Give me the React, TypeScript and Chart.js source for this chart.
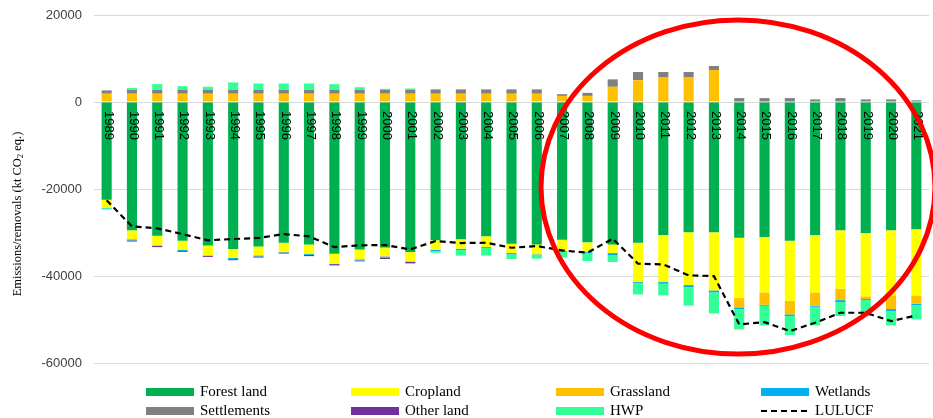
import React, { useEffect, useRef } from "react";
import { Chart, registerables } from "chart.js";

Chart.register(...registerables);

const years = [
  "1989", "1990", "1991", "1992", "1993", "1994", "1995", "1996", "1997", "1998", "1999",
  "2000", "2001", "2002", "2003", "2004", "2005", "2006", "2007", "2008", "2009", "2010",
  "2011", "2012", "2013", "2014", "2015", "2016", "2017", "2018", "2019", "2020", "2021",
];

const forestLand = [
  -22450, -29500, -30730, -31880, -32960, -33800, -33190, -32350, -32730, -34870, -33880,
  -33420, -34500, -31810, -31580, -30890, -32580, -32730, -31660, -32270, -32730, -32350,
  -30580, -29970, -29970, -31190, -31040, -31880, -30580, -29510, -30120, -29510, -29280,
];

const cropland = [
  -1840, -2070, -2230, -2150, -2300, -2070, -2070, -2150, -2150, -2300, -2300,
  -2070, -2150, -2150, -2150, -2450, -2150, -2300, -2600, -2230, -2000, -9050,
  -10810, -12110, -13340, -13880, -12730, -13800, -13190, -13420, -14570, -14950, -15180,
];

const grassland = [
  1900, 1900, 1900, 1900, 1900, 1900, 1900, 1900, 1900, 1900, 1900,
  1900, 1900, 1900, 1900, 1900, 1900, 1900, 1400, 1400, 3500, 5000,
  5750, 5750, 7350, -2150, -2840, -3140, -3070, -2610, -610, -3140, -1920,
];

const wetlands = [
  -150, -250, -100, -250, -100, -250, -250, -100, -250, -100, -250,
  -300, -100, -300, -300, -200, -300, -200, -200, -300, -530, -300,
  -380, -460, -460, -380, -230, -380, -230, -460, -230, -460, -300,
];

const settlements = [
  770, 900, 900, 900, 900, 900, 900, 900, 900, 900, 900,
  900, 900, 1000, 1000, 1000, 1000, 1000, 400, 700, 1700, 1900,
  1150, 1150, 920, 900, 900, 900, 600, 900, 600, 600, 400,
];

const otherLand = [
  0, -250, -300, -200, -250, -250, -250, -250, -300, -300, -200,
  -300, -350, 0, 0, 0, 0, 0, 0, 0, 0, 0,
  0, 0, 0, 0, 0, 0, 0, 0, 0, 0, 0,
];

const hwp = [
  -300, 450, 1300, 850, 700, 1700, 1450, 1450, 1450, 1300, 600,
  230, 300, -400, -1300, -1760, -1070, -770, -1300, -1760, -1530, -2530,
  -2680, -4290, -4830, -4680, -4520, -4370, -4290, -3220, -3680, -3300, -3300,
];

const lulucf = [
  -22600, -28600, -29050, -30360, -31800, -31500, -31270, -30360, -30890, -33350, -32960,
  -32880, -33880, -31960, -32420, -32350, -33500, -33120, -34110, -34650, -31420, -37170,
  -37330, -39860, -40020, -51130, -50600, -52670, -50750, -48450, -48450, -50370, -49060,
];

const yTicks = [20000, 0, -20000, -40000, -60000];

const COLORS = {
  forest: "#00B050",
  cropland: "#FFFF00",
  grassland: "#FFC000",
  wetlands: "#00B0F0",
  settlements: "#808080",
  other: "#7030A0",
  hwp: "#33FF99",
};

const legendItems = [
  { label: "Forest land", color: COLORS.forest },
  { label: "Cropland", color: COLORS.cropland },
  { label: "Grassland", color: COLORS.grassland },
  { label: "Wetlands", color: COLORS.wetlands },
  { label: "Settlements", color: COLORS.settlements },
  { label: "Other land", color: COLORS.other },
  { label: "HWP", color: COLORS.hwp },
  { label: "LULUCF", color: "dash" },
];

const overlayPlugin = {
  id: "overlay",
  afterDraw(chart: any) {
    const ctx = chart.ctx as CanvasRenderingContext2D;
    const xs = chart.scales.x;
    const ys = chart.scales.y;
    const y0 = ys.getPixelForValue(0);

    // year labels rotated clockwise
    ctx.save();
    ctx.font = '13px "Liberation Sans", Arial, sans-serif';
    ctx.fillStyle = "#000";
    ctx.textAlign = "left";
    ctx.textBaseline = "middle";
    years.forEach((yr, i) => {
      const x = xs.getPixelForValue(i);
      ctx.save();
      ctx.translate(x + 1.5, y0 + 9);
      ctx.rotate(Math.PI / 2);
      ctx.fillText(yr, 0, 0);
      ctx.restore();
    });
    ctx.restore();

    // y axis title
    ctx.save();
    ctx.fillStyle = "#000";
    ctx.translate(18, 214);
    ctx.rotate(-Math.PI / 2);
    ctx.textBaseline = "middle";
    ctx.textAlign = "left";
    const big = '12.5px "Liberation Serif", "Times New Roman", serif';
    const small = '8.5px "Liberation Serif", "Times New Roman", serif';
    const p1 = "Emissions/removals (kt CO";
    const p2 = "2";
    const p3 = " eq.)";
    ctx.font = big;
    const w1 = ctx.measureText(p1).width;
    const w3 = ctx.measureText(p3).width;
    ctx.font = small;
    const w2 = ctx.measureText(p2).width;
    let sx = -(w1 + w2 + w3) / 2;
    ctx.font = big;
    ctx.fillText(p1, sx, 0);
    sx += w1;
    ctx.font = small;
    ctx.fillText(p2, sx, 3);
    sx += w2;
    ctx.font = big;
    ctx.fillText(p3, sx, 0);
    ctx.restore();

    // legend
    ctx.save();
    const colX = [146, 351, 556, 761];
    const rowY = [392, 411];
    ctx.font = '15px "Liberation Serif", "Times New Roman", serif';
    ctx.textBaseline = "middle";
    ctx.textAlign = "left";
    legendItems.forEach((it, i) => {
      const cx = colX[i % 4];
      const cy = rowY[Math.floor(i / 4)];
      if (it.color === "dash") {
        ctx.save();
        ctx.strokeStyle = "#000";
        ctx.lineWidth = 2.2;
        ctx.setLineDash([6, 4]);
        ctx.beginPath();
        ctx.moveTo(cx, cy);
        ctx.lineTo(cx + 48, cy);
        ctx.stroke();
        ctx.restore();
      } else {
        ctx.fillStyle = it.color;
        ctx.fillRect(cx, cy - 4, 48, 8);
      }
      ctx.fillStyle = "#000";
      ctx.fillText(it.label, cx + 54, cy);
    });
    ctx.restore();

    // red ellipse annotation
    ctx.save();
    ctx.strokeStyle = "#FF0000";
    ctx.lineWidth = 5;
    ctx.beginPath();
    ctx.ellipse(738, 187, 197, 167, 0, 0, Math.PI * 2);
    ctx.stroke();
    ctx.restore();
  },
};

export default function App() {
  const ref = useRef<HTMLCanvasElement | null>(null);

  useEffect(() => {
    document.body.style.margin = "0";
    if (!ref.current) return;
    const bar = (label: string, data: number[], color: string) => ({
      type: "bar" as const,
      label,
      data,
      backgroundColor: color,
      borderWidth: 0,
      stack: "s",
      order: 1,
      barPercentage: 0.4,
      categoryPercentage: 1,
    });
    const chart = new Chart(ref.current, {
      type: "bar",
      data: {
        labels: years,
        datasets: [
          bar("Forest land", forestLand, COLORS.forest),
          bar("Cropland", cropland, COLORS.cropland),
          bar("Grassland", grassland, COLORS.grassland),
          bar("Wetlands", wetlands, COLORS.wetlands),
          bar("Settlements", settlements, COLORS.settlements),
          bar("Other land", otherLand, COLORS.other),
          bar("HWP", hwp, COLORS.hwp),
          {
            type: "line" as const,
            label: "LULUCF",
            data: lulucf,
            borderColor: "#000",
            borderWidth: 2.2,
            borderDash: [6, 4],
            pointRadius: 0,
            tension: 0,
            fill: false,
            stack: "line",
            order: 0,
          } as any,
        ],
      },
      options: {
        responsive: false,
        animation: false,
        layout: { padding: { left: 0, right: 4, top: 15, bottom: 55 } },
        plugins: {
          legend: { display: false },
          tooltip: { enabled: false },
          title: { display: false },
        },
        scales: {
          x: {
            display: false,
            stacked: true,
          },
          y: {
            stacked: true,
            min: -60000,
            max: 20000,
            afterFit: (scale: any) => {
              scale.width = 94;
              scale.paddingTop = 0;
              scale.paddingBottom = 0;
            },
            afterBuildTicks: (scale: any) => {
              scale.ticks = yTicks.map((v) => ({ value: v }));
            },
            border: { display: false },
            grid: { color: "#d9d9d9", lineWidth: 1, drawTicks: false },
            ticks: {
              padding: 12,
              color: "#404040",
              font: { family: '"Liberation Sans", Arial, sans-serif', size: 13 },
              callback: (v: any) => String(v),
            },
          },
        },
      },
      plugins: [overlayPlugin],
    });
    return () => chart.destroy();
  }, []);

  return (
    <div style={{ width: 933, height: 418, overflow: "hidden", background: "#fff" }}>
      <canvas ref={ref} width={933} height={418} />
    </div>
  );
}
